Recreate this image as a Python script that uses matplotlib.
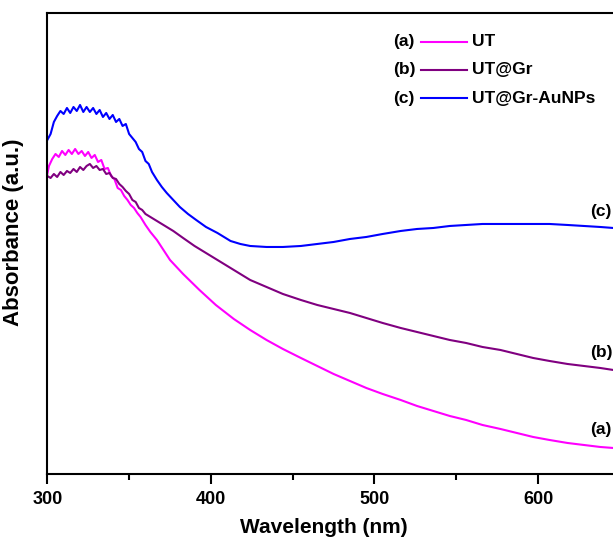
import numpy as np
import matplotlib
matplotlib.use('Agg')
import matplotlib.pyplot as plt

plt.rcParams['font.family'] = ['Liberation Sans', 'DejaVu Sans']
plt.rcParams['font.weight'] = 'bold'

# UV-vis spectra, absorbance in arbitrary units
wl_a = [300, 301, 303, 305, 307, 309, 311, 313, 315, 317, 319, 321, 323, 325, 327, 329,
        331, 333, 335, 337, 339, 341, 343, 345, 347, 349, 351, 353, 355, 357, 360, 363,
        367, 371, 375, 383, 393, 403, 414, 424, 434, 444, 455, 465, 475, 485, 495, 505,
        516, 526, 536, 546, 556, 566, 577, 587, 597, 607, 618, 628, 638, 646]
abs_a = [3.00, 3.08, 3.15, 3.20, 3.17, 3.23, 3.19, 3.24, 3.20, 3.25, 3.20, 3.23, 3.18, 3.22, 3.16, 3.19,
         3.12, 3.14, 3.05, 3.06, 2.98, 2.95, 2.86, 2.84, 2.78, 2.74, 2.69, 2.66, 2.61, 2.57, 2.49, 2.42,
         2.34, 2.24, 2.14, 2.00, 1.84, 1.69, 1.55, 1.44, 1.34, 1.25, 1.16, 1.08, 1.00, 0.93, 0.86, 0.80,
         0.74, 0.68, 0.63, 0.58, 0.54, 0.49, 0.45, 0.41, 0.37, 0.34, 0.31, 0.29, 0.27, 0.26]

wl_b = [300, 302, 304, 306, 308, 310, 312, 314, 316, 318, 320, 322, 324, 326, 328, 330,
        332, 334, 336, 338, 340, 342, 344, 346, 348, 350, 352, 354, 356, 358, 360, 362,
        365, 368, 372, 377, 383, 390, 397, 405, 414, 424, 434, 444, 455, 465, 475, 485,
        495, 505, 516, 526, 536, 546, 556, 566, 577, 587, 597, 607, 618, 628, 638, 646]
abs_b = [2.98, 2.96, 3.00, 2.97, 3.02, 2.99, 3.03, 3.01, 3.05, 3.02, 3.07, 3.04, 3.08, 3.10, 3.06, 3.08,
         3.04, 3.05, 3.00, 3.01, 2.96, 2.95, 2.90, 2.87, 2.83, 2.80, 2.74, 2.72, 2.66, 2.64, 2.60, 2.58,
         2.55, 2.52, 2.48, 2.43, 2.36, 2.28, 2.21, 2.13, 2.04, 1.94, 1.87, 1.80, 1.74, 1.69, 1.65, 1.61,
         1.56, 1.51, 1.46, 1.42, 1.38, 1.34, 1.31, 1.27, 1.24, 1.20, 1.16, 1.13, 1.10, 1.08, 1.06, 1.04]

wl_c = [300, 302, 304, 306, 308, 310, 312, 314, 316, 318, 320, 322, 324, 326, 328, 330,
        332, 334, 336, 338, 340, 342, 344, 346, 348, 350, 352, 354, 356, 358, 360, 362,
        364, 367, 370, 373, 377, 381, 386, 391, 397, 404, 412, 418, 424, 434, 444, 455,
        465, 475, 485, 495, 505, 516, 526, 536, 546, 556, 566, 577, 587, 597, 607, 618,
        628, 638, 646]
abs_c = [3.34, 3.40, 3.52, 3.58, 3.63, 3.60, 3.66, 3.61, 3.67, 3.63, 3.69, 3.62, 3.67, 3.62, 3.66, 3.60,
         3.64, 3.57, 3.61, 3.55, 3.59, 3.52, 3.55, 3.48, 3.50, 3.40, 3.36, 3.32, 3.25, 3.22, 3.13, 3.10,
         3.02, 2.94, 2.87, 2.81, 2.74, 2.67, 2.60, 2.54, 2.47, 2.41, 2.33, 2.30, 2.28, 2.27, 2.27, 2.28,
         2.30, 2.32, 2.35, 2.37, 2.40, 2.43, 2.45, 2.46, 2.48, 2.49, 2.50, 2.50, 2.50, 2.50, 2.50, 2.49,
         2.48, 2.47, 2.46]

tags = ['(a)', '(b)', '(c)']
names = ['UT', 'UT@Gr', 'UT@Gr-AuNPs']
colors = ['#ff00ff', '#800080', '#0000ff']
# curve end labels at the right edge
end_label_y = [0.44, 1.21, 2.62]

fig = plt.figure(figsize=(6.13, 5.42), dpi=100)
ax = fig.add_axes([0.0772, 0.1255, 0.934, 0.850])

series = [(wl_a, abs_a), (wl_b, abs_b), (wl_c, abs_c)]
for (x, y), c in zip(series, colors):
    ax.plot(x, y, color=c, lw=1.5)

ax.set_xlim(300, 650)
ax.set_ylim(0, 4.607)
ax.set_xticks([300, 400, 500, 600])
ax.set_xticks([350, 450, 550], minor=True)
ax.set_yticks([])
ax.tick_params(axis='x', which='major', length=7, width=1.5, direction='out', labelsize=13, pad=5)
ax.tick_params(axis='x', which='minor', length=4.5, width=1.5, direction='out')
for lbl in ax.get_xticklabels():
    lbl.set_fontweight('bold')
for s in ax.spines.values():
    s.set_linewidth(1.5)

ax.set_xlabel('Wavelength (nm)', fontsize=15, fontweight='bold')
ax.xaxis.set_label_coords(0.483, -0.095)
ax.set_ylabel('Absorbance (a.u.)', fontsize=16, fontweight='bold')
ax.yaxis.set_label_coords(-0.04, 0.525)

# legend: tag, line, name
leg_y = [0.938, 0.877, 0.816]
for t, n, c, yy in zip(tags, names, colors, leg_y):
    ax.text(0.604, yy, t, transform=ax.transAxes, fontsize=12.5, fontweight='bold', va='center', ha='left')
    ax.plot([0.652, 0.733], [yy, yy], transform=ax.transAxes, color=c, lw=1.5)
    ax.text(0.742, yy, n, transform=ax.transAxes, fontsize=12.5, fontweight='bold', va='center', ha='left')

for t, yy in zip(tags, end_label_y):
    ax.text(632, yy, t, fontsize=12.5, fontweight='bold', va='center', ha='left', clip_on=False)

fig.savefig('out.png', dpi=100)
